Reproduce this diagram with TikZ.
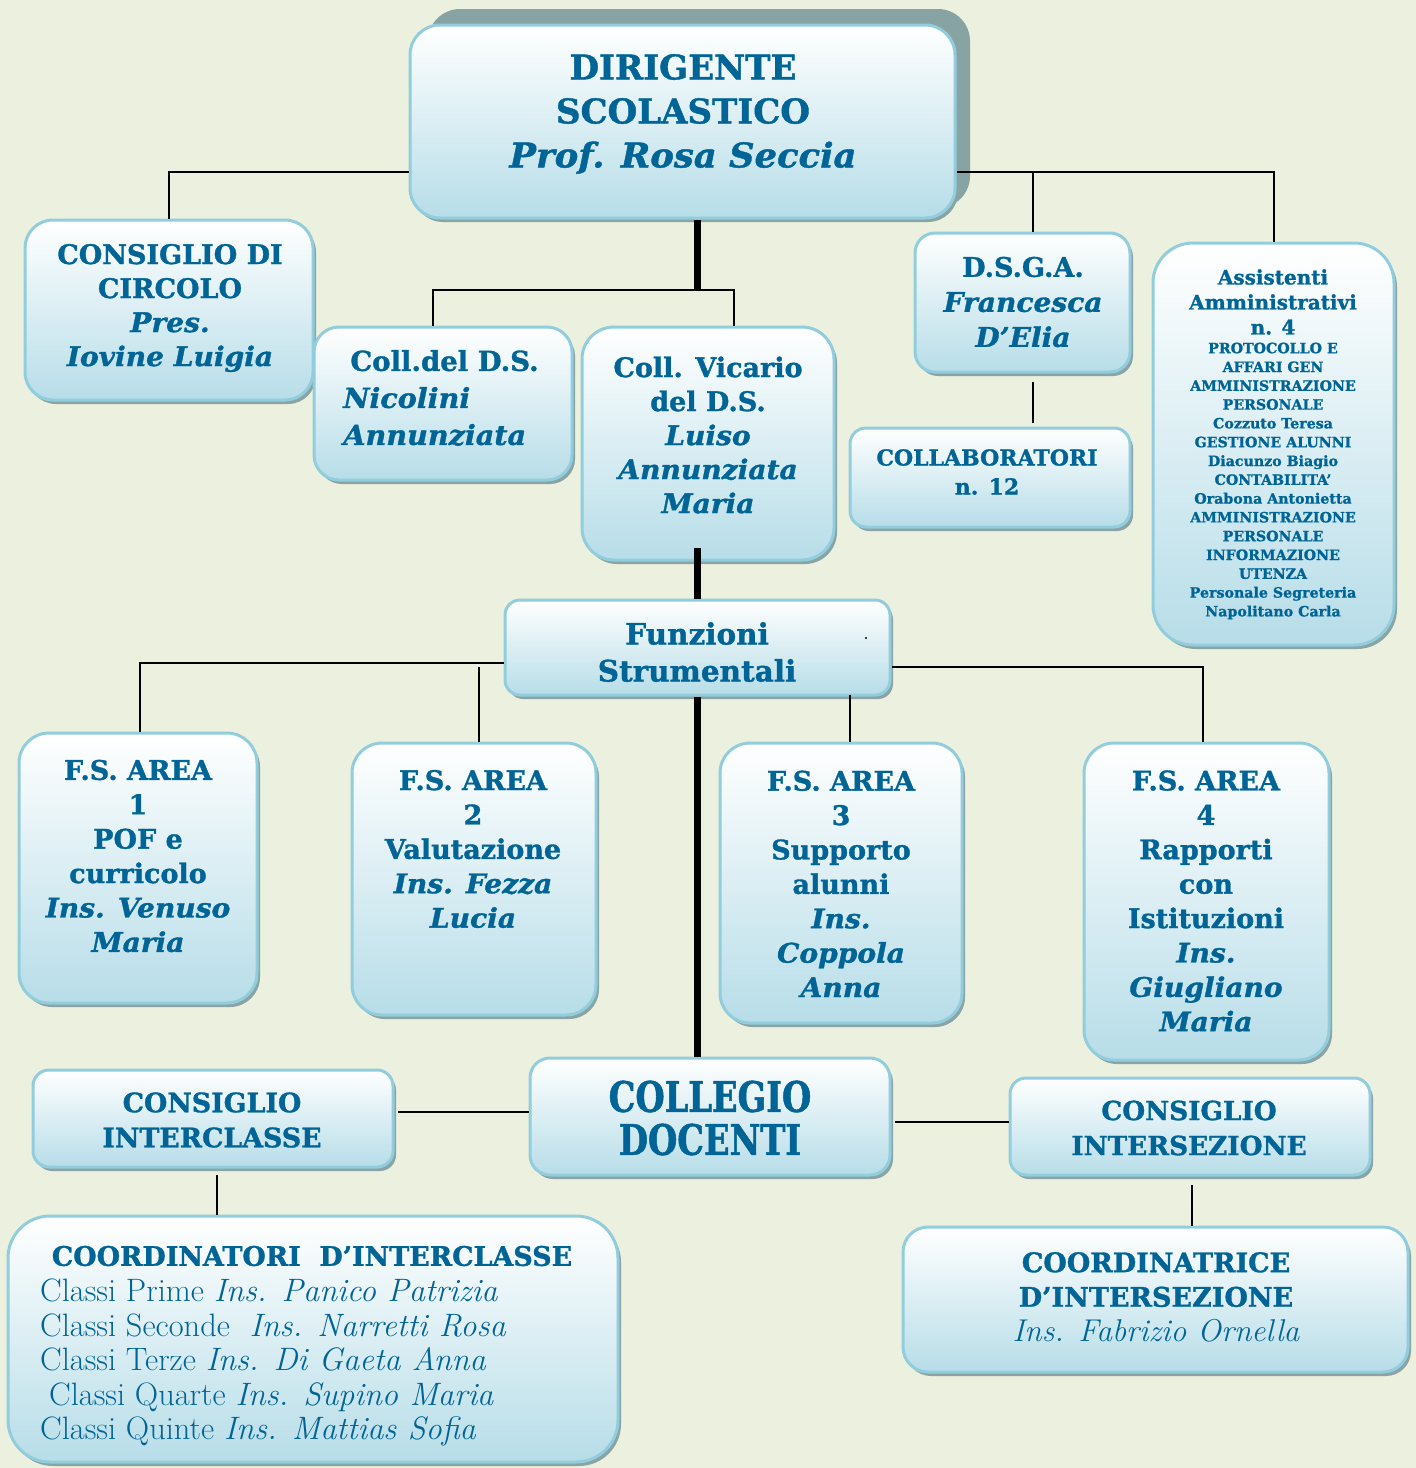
\documentclass[tikz,border=0pt]{standalone}
\usepackage{fontspec}
\newfontfamily\bk{DejaVu Serif}[BoldFeatures={FakeBold=1.2}, BoldItalicFeatures={FakeBold=1.2, FakeStretch=1.04}]
\newfontfamily\bkc{DejaVu Serif}[FakeStretch=0.8, BoldFeatures={FakeBold=1.2}]
\usetikzlibrary{fit,shadows}
\definecolor{bgc}{RGB}{235,241,222}
\definecolor{tc}{RGB}{0,101,150}
\definecolor{boxb}{RGB}{183,221,232}
\definecolor{bord}{RGB}{146,205,221}
\definecolor{shad}{RGB}{138,164,166}
\definecolor{bigshad}{RGB}{135,163,163}
\newcommand\setfs[2]{\fontsize{#1}{#2}\selectfont}
\tikzset{
  bx/.style={draw=bord, line width=3pt, top color=white, bottom color=boxb, inner sep=0pt, rounded corners=#1,
    drop shadow={shadow xshift=3pt, shadow yshift=-4pt, fill=shad, opacity=1}},
  bx/.default=25pt,
  txt/.style={text=tc, align=center, inner sep=0pt},
  ln/.style={line width=2pt, black},
  thk/.style={line width=7pt, black},
}
\begin{document}
\begin{tikzpicture}[x=1pt,y=-1pt]
\fill[bgc] (0,0) rectangle (1416,1468);
\useasboundingbox (0,0) rectangle (1416,1468);

% connector joints
\coordinate (a1) at (169,172);
\coordinate (b) at (1033,172);
\coordinate (c) at (697,290);
\coordinate (d1) at (433,290);
\coordinate (d2) at (734,290);
\coordinate (e) at (697,548);
\coordinate (f1) at (140,663);
\coordinate (f2) at (479,667);
\coordinate (f3) at (850,695);
\coordinate (f4) at (1203,667);
\coordinate (g1) at (398,1112);
\coordinate (g2) at (895,1122);
\coordinate (h1) at (217,1167);
\coordinate (h2) at (1192,1175);

% big shadow of the head box
\fill[bigshad, rounded corners=32pt] (428,9) rectangle (970,208);

\node[bx=30pt, fit={(410,25) (955,218)}, drop shadow={opacity=0}] (dir) {};
\node[bx=28pt, fit={(25,220) (313,400)}] (cons) {};
\node[bx=25pt, fit={(314,327) (572,480)}] (coll) {};
\node[bx=32pt, fit={(582,327) (834,560)}] (vic) {};
\node[bx=20pt, fit={(915,233) (1130,372)}] (dsga) {};
\node[bx=16pt, fit={(850,428) (1130,527)}] (collab) {};
\node[bx=40pt, fit={(1153,243) (1394,645)}] (assist) {};
\node[bx=15pt, fit={(505,600) (890,695)}] (fs) {};
\node[bx=30pt, fit={(19,733) (257,1003)}] (fs1) {};
\node[bx=30pt, fit={(352,743) (596,1015)}] (fs2) {};
\node[bx=30pt, fit={(720,743) (962,1023)}] (fs3) {};
\node[bx=30pt, fit={(1084,743) (1329,1060)}] (fs4) {};
\node[bx=16pt, fit={(33,1070) (393,1167)}] (cinter) {};
\node[bx=20pt, fit={(530,1058) (890,1175)}] (cd) {};
\node[bx=16pt, fit={(1010,1078) (1370,1175)}] (cinters) {};
\node[bx=42pt, fit={(8,1216) (618,1462)}] (coordI) {};
\node[bx=25pt, fit={(903,1227) (1408,1372)}] (coordS) {};

\draw[ln] (dir.west |- a1) -| (cons.north);
\draw[ln] (dir.east |- a1) -| (assist.north);
\draw[ln] (b) -- (b |- dsga.north);
\draw[thk] (c |- dir.south) -- (c);
\draw[ln] (d1 |- coll.north) -- (d1) -- (d2) -- (d2 |- vic.north);
\draw[thk] (e) -- (e |- fs.north);
\draw[ln, shorten <=8pt, shorten >=4pt] (b |- dsga.south) -- (b |- collab.north);
\draw[ln] (fs.west |- f1) -- (f1) -- (f1 |- fs1.north);
\draw[ln] (f2) -- (f2 |- fs2.north);
\draw[ln] (fs.east |- f4) -- (f4) -- (f4 |- fs4.north);
\draw[ln] (f3) -- (f3 |- fs3.north);
\draw[thk] (c |- fs.south) -- (c |- cd.north);
\draw[ln] (g1) -- (cd.west |- g1);
\draw[ln] (g2) -- (cinters.west |- g2);
\draw[ln, shorten <=8pt] (h1) -- (h1 |- coordI.north);
\draw[ln, shorten <=10pt] (h2) -- (h2 |- coordS.north);

% texts
\node[txt, font=\bk\bfseries\setfs{34}{44}] (dirt) at (683,114) {DIRIGENTE\\SCOLASTICO\\\textit{Prof. Rosa Seccia}};
\node[txt, font=\bk\bfseries\setfs{27}{34}] (const) at (170,308) {CONSIGLIO DI\\CIRCOLO\\\textit{Pres.}\\\textit{Iovine Luigia}};
\node[txt, align=left, font=\bk\bfseries\setfs{27.5}{37}] (collt) at (441,398) {\hspace*{7pt}Coll.del D.S.\\\textit{Nicolini}\\\textit{Annunziata}};
\node[txt, font=\bk\bfseries\setfs{27}{34}] (vict) at (708,435) {Coll. Vicario\\del D.S.\\\textit{Luiso}\\\textit{Annunziata}\\\textit{Maria}};
\node[txt, font=\bk\bfseries\setfs{27}{35}] (dsgat) at (1023,302) {D.S.G.A.\\\textit{Francesca}\\\textit{D’Elia}};
\node[txt, font=\bk\bfseries\setfs{22}{29}] (collabt) at (987,472) {COLLABORATORI\\n. 12};
\node[txt, font=\bk\bfseries\setfs{20}{25}] (assistt) at (1273,302) {Assistenti\\Amministrativi\\n. 4};
\node[txt, font=\bk\bfseries\setfs{14.2}{18.8}] (assistl) at (1273,481) {PROTOCOLLO E\\AFFARI GEN\\AMMINISTRAZIONE\\PERSONALE\\Cozzuto Teresa\\GESTIONE ALUNNI\\Diacunzo Biagio\\CONTABILITA’\\Orabona Antonietta\\AMMINISTRAZIONE\\PERSONALE\\INFORMAZIONE\\UTENZA\\Personale Segreteria\\Napolitano Carla};
\node[txt, font=\bk\bfseries\setfs{29.5}{37}] (fst) at (697,652) {Funzioni\\Strumentali};
\fill[black] (866,638) circle (1.2pt);
\node[txt, font=\bk\bfseries\setfs{27}{34.4}] (fs1t) at (138,856) {F.S. AREA\\1\\POF e\\curricolo\\\textit{Ins. Venuso}\\\textit{Maria}};
\node[txt, font=\bk\bfseries\setfs{27}{34.4}] (fs2t) at (473,849) {F.S. AREA\\2\\Valutazione\\\textit{Ins. Fezza}\\\textit{Lucia}};
\node[txt, font=\bk\bfseries\setfs{27}{34.4}] (fs3t) at (841,884) {F.S. AREA\\3\\Supporto\\alunni\\\textit{Ins.}\\\textit{Coppola}\\\textit{Anna}};
\node[txt, font=\bk\bfseries\setfs{27}{34.4}] (fs4t) at (1206,901) {F.S. AREA\\4\\Rapporti\\con\\Istituzioni\\\textit{Ins.}\\\textit{Giugliano}\\\textit{Maria}};
\node[txt, font=\bk\bfseries\setfs{26.8}{35}] (cintert) at (212,1120) {CONSIGLIO\\INTERCLASSE};
\node[txt, font=\bkc\bfseries\setfs{42}{43}] (cdt) at (710,1118) {COLLEGIO\\DOCENTI};
\node[txt, font=\bk\bfseries\setfs{26.3}{35}] (cinterst) at (1189,1128) {CONSIGLIO\\INTERSEZIONE};
\node[txt, font=\bk\bfseries\setfs{26.9}{34}] (coordIh) at (312,1256) {COORDINATORI\ \ D’INTERCLASSE};
\node[txt, align=left, anchor=west, font=\setfs{32.4}{34.5}] (coordIl) at (40,1362.5) {Classi Prime \textit{Ins. Panico Patrizia}\\Classi Seconde\ \ \textit{Ins. Narretti Rosa}\\Classi Terze \textit{Ins. Di Gaeta Anna}\\\hspace*{9pt}Classi Quarte \textit{Ins. Supino Maria}\\Classi Quinte \textit{Ins. Mattias Sofia}};
\node[txt, font=\bk\bfseries\setfs{27}{34.5}] (coordSt) at (1156,1297) {COORDINATRICE\\D’INTERSEZIONE\\{\rmfamily\mdseries\itshape\setfs{31.5}{34.5}Ins. Fabrizio Ornella}};
\end{tikzpicture}
\end{document}
